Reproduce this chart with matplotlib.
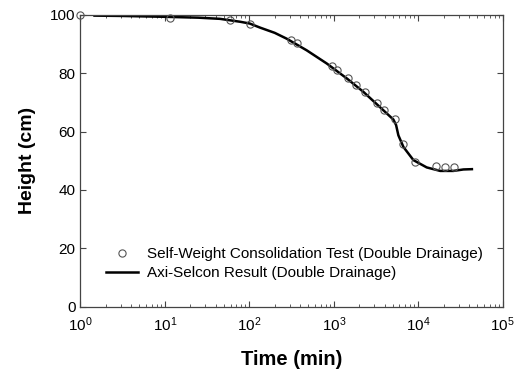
import numpy as np
import matplotlib
matplotlib.use('Agg')
import matplotlib.pyplot as plt
from matplotlib.ticker import LogLocator

plt.rcParams['font.family'] = ['Liberation Sans', 'DejaVu Sans']
plt.rcParams['mathtext.fontset'] = 'custom'
plt.rcParams['mathtext.rm'] = 'Liberation Sans'
plt.rcParams['mathtext.default'] = 'regular'

# measured test points
test_time = [1.0, 11.5, 59, 102, 311, 370, 946, 1104, 1490, 1820, 2350,
             3250, 3980, 5370, 6580, 9170, 16200, 20600, 26600]
test_height = [100.0, 99.0, 98.2, 97.0, 91.5, 90.2, 82.4, 81.0, 78.2, 75.9, 73.6,
               69.8, 67.5, 64.2, 55.7, 49.7, 48.2, 47.9, 47.7]

# model curve
model_time = [1.47, 3.0, 10, 25, 45, 78, 101, 134, 200, 277, 479, 826, 1425,
              2240, 3510, 5080, 5470, 5820, 6680, 8770, 12600, 18200, 26100,
              34300, 43200]
model_height = [99.7, 99.6, 99.3, 99.0, 98.6, 97.6, 97.0, 95.6, 93.8, 91.8, 87.8,
                83.3, 78.2, 73.6, 68.4, 64.1, 62.2, 58.7, 54.7, 50.2, 47.7, 46.5,
                46.5, 47.0, 47.1]

fig = plt.figure(figsize=(5.22, 3.69), dpi=100)
ax = fig.add_axes([0.154, 0.169, 0.809, 0.791])

ax.plot(test_time, test_height, 'o', mfc='none', mec='#555555', ms=5.2, mew=0.8,
        label='Self-Weight Consolidation Test (Double Drainage)', zorder=3, clip_on=False)
ax.plot(model_time, model_height, '-', color='black', lw=1.8,
        label='Axi-Selcon Result (Double Drainage)', zorder=2)

ax.set_xscale('log')
ax.set_xlim(1, 1e5)
ax.set_ylim(0, 100)
ax.set_yticks([0, 20, 40, 60, 80, 100])
ax.xaxis.set_minor_locator(LogLocator(base=10, subs=np.arange(2, 10), numticks=20))

for s in ax.spines.values():
    s.set_color('#444444')
    s.set_linewidth(0.9)
ax.tick_params(which='both', direction='in', top=True, right=True, colors='#444444',
               labelcolor='black', labelsize=11)
ax.tick_params(which='major', length=4)
ax.tick_params(which='minor', length=2.5)
ax.tick_params(axis='x', pad=6)

ax.set_xlabel('Time (min)', fontsize=14.5, fontweight='bold', labelpad=12)
ax.set_ylabel('Height (cm)', fontsize=14, fontweight='bold', labelpad=10)

ax.legend(loc='lower left', bbox_to_anchor=(0.035, 0.055), frameon=False, fontsize=11,
          handlelength=2.1, handletextpad=0.6, labelspacing=0.3, borderpad=0.2)

fig.savefig('out.png', dpi=100)
